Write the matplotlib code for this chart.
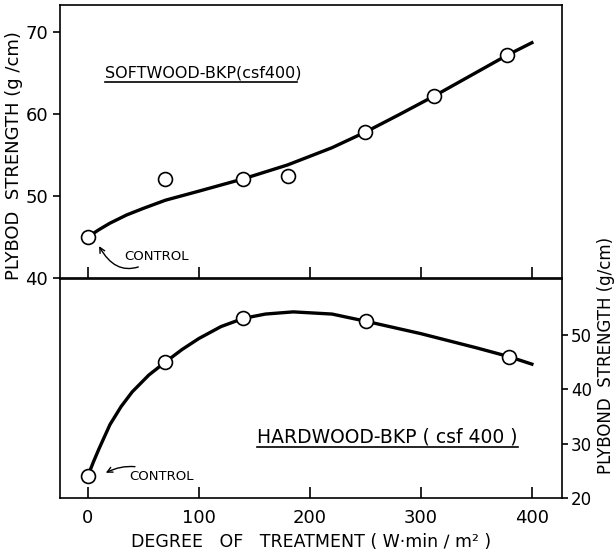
import matplotlib
matplotlib.use("Agg")
import matplotlib.pyplot as plt

# softwood data (top panel)
soft_x = [0, 70, 140, 180, 250, 312, 378]
soft_y = [45.0, 52.1, 52.1, 52.5, 57.8, 62.2, 67.2]
# smooth curve
soft_curve_x = [0, 10, 20, 35, 50, 70, 100, 140, 180, 220, 250, 280, 312, 345, 378, 400]
soft_curve_y = [45.0, 45.9, 46.7, 47.7, 48.5, 49.5, 50.6, 52.1, 53.8, 55.9, 57.8, 59.9, 62.2, 64.7, 67.2, 68.7]

# hardwood data (bottom panel)
hard_x = [0, 70, 140, 251, 379]
hard_y = [24.0, 45.0, 53.0, 52.5, 46.0]
hard_curve_x = [0, 5, 10, 20, 30, 40, 55, 70, 85, 100, 120, 140, 160, 185, 220, 250, 300, 350, 379, 400]
hard_curve_y = [24.0, 26.6, 29.0, 33.5, 36.8, 39.5, 42.6, 45.0, 47.3, 49.3, 51.5, 53.0, 53.8, 54.2, 53.8, 52.5, 50.2, 47.6, 46.0, 44.6]

x_ticks = [0, 100, 200, 300, 400]
soft_ticks = [40, 50, 60, 70]
hard_ticks = [20, 30, 40, 50]

fig = plt.figure(figsize=(6.15, 5.54), dpi=100)
ax1 = fig.add_axes([0.0976, 0.498, 0.816, 0.493])
ax2 = fig.add_axes([0.0976, 0.101, 0.816, 0.395])

lw = 2.4
mk = dict(marker='o', markersize=10, markerfacecolor='white',
          markeredgecolor='black', markeredgewidth=1.2, linestyle='none', zorder=3)

# top panel
ax1.plot(soft_curve_x, soft_curve_y, color='black', lw=lw)
ax1.plot(soft_x, soft_y, **mk)
ax1.set_xlim(-25, 427)
ax1.set_ylim(40, 73.3)
ax1.set_xticks(x_ticks)
ax1.set_xticklabels([])
ax1.set_yticks(soft_ticks)
ax1.tick_params(axis='x', direction='in', length=8, width=1.2)
ax1.tick_params(axis='y', direction='out', length=5, width=1.2, labelsize=13)
fig.text(0.023, 0.72, 'PLYBOD  STRENGTH (g /cm)', rotation=90, fontsize=13,
         ha='center', va='center')
ax1.text(0.09, 0.735, 'SOFTWOOD-BKP(csf400)', transform=ax1.transAxes, fontsize=11.5)
ax1.plot([0.09, 0.472], [0.718, 0.718], transform=ax1.transAxes, color='black', lw=1.2)
ax1.annotate('CONTROL', xy=(9, 44.2), xytext=(33, 42.6), fontsize=9.5, va='center',
             arrowprops=dict(arrowstyle='->', connectionstyle='arc3,rad=-0.6', lw=1))

# bottom panel
ax2.plot(hard_curve_x, hard_curve_y, color='black', lw=lw)
ax2.plot(hard_x, hard_y, **mk)
ax2.set_xlim(-25, 427)
ax2.set_ylim(20, 60.2)
ax2.set_xticks(x_ticks)
ax2.tick_params(axis='x', direction='in', length=8, width=1.2, labelsize=13, pad=8)
ax2.yaxis.tick_right()
ax2.set_yticks(hard_ticks)
ax2.tick_params(axis='y', direction='out', length=4, width=1.2, labelsize=12, pad=2.5)
fig.text(0.986, 0.359, 'PLYBOND  STRENGTH (g/cm)', rotation=90, fontsize=12,
         ha='center', va='center')
ax2.set_xlabel('DEGREE   OF   TREATMENT ( W·min ∕ m² )', fontsize=12.5)
ax2.text(0.392, 0.256, 'HARDWOOD-BKP ( csf 400 )', transform=ax2.transAxes, fontsize=13.5)
ax2.plot([0.392, 0.912], [0.233, 0.233], transform=ax2.transAxes, color='black', lw=1.2)
ax2.annotate('CONTROL', xy=(14, 24.4), xytext=(37, 24.0), fontsize=9.5, va='center',
             arrowprops=dict(arrowstyle='->', connectionstyle='arc3,rad=0.3', lw=1))

for ax in (ax1, ax2):
    for s in ax.spines.values():
        s.set_linewidth(1.2)

fig.savefig('out.png', dpi=100)
